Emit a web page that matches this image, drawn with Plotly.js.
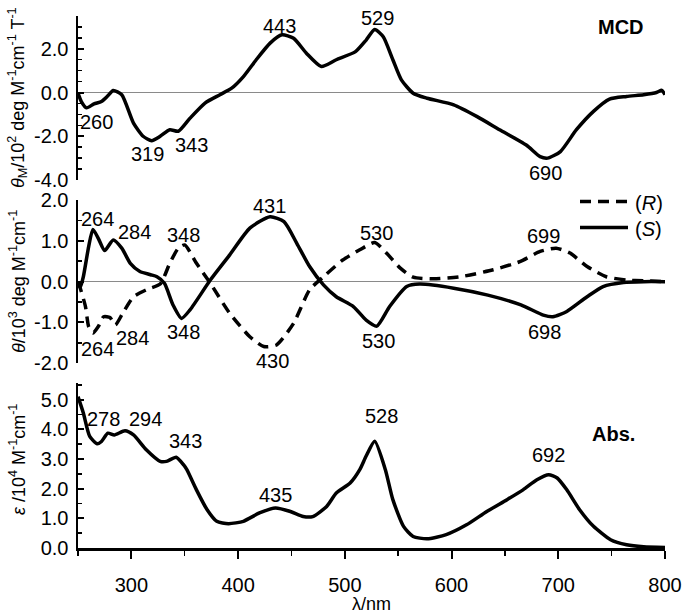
<!DOCTYPE html>
<html>
<head>
<meta charset="utf-8">
<script src="https://cdn.plot.ly/plotly-3.0.1.min.js"></script>
<style>html,body{margin:0;padding:0;background:#fff;}#chart{width:685px;height:614px;}</style>
</head>
<body>
<div id="chart"></div>
<script>
// ---------- data ----------
const mcdWl = [250,253,258,265,272,278,283,291,302,311,319,327,336,344,355,369,383,394,405,417,430,441,452,464,478,492,510,520,528,536,545,553,564,577,602,624,645,670,683,690,702,717,733,748,764,780,792,797,800];
const mcdVal = [-0.03,-0.4,-0.7,-0.52,-0.41,-0.15,0.09,-0.1,-1.4,-2.0,-2.2,-2.0,-1.7,-1.77,-1.17,-0.48,-0.1,0.2,0.73,1.5,2.26,2.64,2.48,1.8,1.19,1.5,1.87,2.4,2.88,2.55,1.5,0.58,-0.03,-0.26,-0.56,-1.1,-1.7,-2.4,-2.93,-3.0,-2.7,-1.7,-0.86,-0.3,-0.18,-0.1,0.0,0.1,-0.1];

const cdSWl = [250,252,255,260,264,269,275,283,291,299,308,318,324,331,339,347,355,374,392,411,430,443,455,467,480,492,508,520,530,542,558,570,602,634,665,686,695,708,727,742,761,780,800];
const cdSVal = [0.0,-0.15,0.12,0.86,1.28,1.06,0.76,1.02,0.82,0.45,0.25,0.17,0.12,-0.04,-0.57,-0.9,-0.69,0.04,0.65,1.31,1.59,1.47,0.94,0.37,-0.08,-0.37,-0.61,-0.94,-1.09,-0.61,-0.12,-0.06,-0.16,-0.33,-0.57,-0.82,-0.86,-0.73,-0.37,-0.12,-0.02,0.0,0.0];

const cdRWl = [250,252,257,260,264,269,274,280,285,292,302,314,327,336,344,350,361,374,392,411,424,436,452,467,480,498,514,528,539,552,564,583,608,639,664,683,698,711,727,745,764,780,800];
const cdRVal = [0.0,-0.15,-0.61,-1.1,-1.26,-1.1,-0.86,-0.88,-1.06,-0.77,-0.37,-0.2,-0.06,0.45,0.82,0.9,0.45,-0.04,-0.77,-1.35,-1.59,-1.55,-1.02,-0.2,0.12,0.53,0.78,0.96,0.7,0.33,0.11,0.07,0.12,0.29,0.49,0.74,0.82,0.7,0.37,0.12,0.04,0.02,0.0];

const absWl = [250,255,261,268,272,278,284,294,302,314,327,333,342,349,352,361,371,380,391,405,420,435,449,461,470,483,492,505,514,520,528,538,545,555,564,577,595,614,633,652,667,680,691,699,708,720,733,749,764,780,800];
const absVal = [5.1,4.55,3.76,3.51,3.59,3.87,3.81,3.95,3.81,3.31,2.92,2.92,3.06,2.8,2.64,1.96,1.29,0.9,0.82,0.9,1.18,1.35,1.23,1.06,1.06,1.4,1.85,2.19,2.64,3.1,3.6,2.64,1.63,0.73,0.39,0.31,0.45,0.78,1.23,1.63,1.96,2.3,2.47,2.36,1.96,1.29,0.73,0.28,0.11,0.04,0.02];

// tick labels
const xTickVals = [300,400,500,600,700,800];
const xTickText = ["300","400","500","600","700","800"];
const mcdTickVals = [-4,-2,0,2];
const mcdTickText = ["-4.0","-2.0","0.0","2.0"];
const cdTickVals = [-2,-1,0,1,2];
const cdTickText = ["-2.0","-1.0","0.0","1.0","2.0"];
const absTickVals = [0,1,2,3,4,5];
const absTickText = ["0.0","1.0","2.0","3.0","4.0","5.0"];

// peak labels
const mcdPeaks = ["260","319","343","443","529","690"];
const cdPeaks = ["264","284","348","431","530","699","264","284","348","430","530","698"];
const absPeaks = ["278","294","343","435","528","692"];

// ---------- layout helpers ----------
const FONT = "Liberation Sans, Arial, sans-serif";
const L = 78, R = 20, T = 16, B = 66, W = 685, H = 614;
const pw = W - L - R, ph = H - T - B;
const pxX = px => (px - L) / pw;
const pxY = py => (H - B - py) / ph;

const lineStyle = {color: "#000", width: 3.5, shape: "spline", smoothing: 0.6};

const traces = [
  {x: mcdWl, y: mcdVal, xaxis: "x", yaxis: "y", mode: "lines", line: lineStyle, showlegend: false},
  {x: cdRWl, y: cdRVal, xaxis: "x2", yaxis: "y2", mode: "lines", line: Object.assign({}, lineStyle, {dash: "11px,7px"}), showlegend: false},
  {x: cdSWl, y: cdSVal, xaxis: "x2", yaxis: "y2", mode: "lines", line: lineStyle, showlegend: false},
  {x: absWl, y: absVal, xaxis: "x3", yaxis: "y3", mode: "lines", line: lineStyle, showlegend: false}
];

const hiddenX = {range: [250, 800], visible: false, domain: [0, 1]};
function yAxis(domain, range, vals, text, zero) {
  return {
    domain: domain, range: range, tickmode: "array", tickvals: vals, ticktext: text,
    showline: true, linecolor: "#000", linewidth: 2.5,
    ticks: "inside", ticklen: 6, tickwidth: 2, tickcolor: "#000",
    minor: {tickmode: "linear", tick0: 0, dtick: 0.5, ticks: "inside", ticklen: 4, tickwidth: 1.5, tickcolor: "#000"},
    showgrid: false, zeroline: zero, zerolinecolor: "#8a8a8a", zerolinewidth: 1.5,
    tickfont: {family: FONT, size: 20, color: "#000"}, ticklabelstandoff: 3,
    fixedrange: true
  };
}

const ann = [];
const NF = {family: FONT, size: 20, color: "#000"};
function lab(text, x, y, xref, yref, opts) {
  ann.push(Object.assign({text: text, x: x, y: y, xref: xref, yref: yref, showarrow: false,
    xanchor: "center", yanchor: "middle", font: NF}, opts || {}));
}
// MCD peak labels
const mcdPos = [[267.3,-1.34],[315,-2.82],[356.5,-2.42],[438.8,3.04],[530.6,3.43],[688,-3.66]];
mcdPeaks.forEach((t,i) => lab(t, mcdPos[i][0], mcdPos[i][1], "x", "y"));
// CD peak labels
const cdPos = [[268.3,1.53],[302.9,1.21],[349,1.14],[429.1,1.86],[529.9,1.2],[686.2,1.12],
               [268.3,-1.64],[300.8,-1.37],[348.4,-1.24],[432.7,-1.94],[531.4,-1.45],[686.8,-1.24]];
cdPeaks.forEach((t,i) => lab(t, cdPos[i][0], cdPos[i][1], "x2", "y2"));
// Abs peak labels
const absPos = [[274.2,4.36],[312.8,4.36],[350.3,3.62],[435.5,1.78],[533.9,4.46],[691.3,3.14]];
absPeaks.forEach((t,i) => lab(t, absPos[i][0], absPos[i][1], "x3", "y3"));
// panel names
lab("<b>MCD</b>", 759, 3.0, "x", "y");
lab("<b>CD</b>", 760, 2.56, "x2", "y2");
lab("<b>Abs.</b>", 752, 3.83, "x3", "y3");
// legend texts
lab("(<i>R</i>)", pxX(648.5), pxY(203), "paper", "paper");
lab("(<i>S</i>)", pxX(648.5), pxY(228.5), "paper", "paper");
// axis titles
const tf = {family: FONT, size: 18, color: "#000"};
lab("<i>θ</i><sub>M</sub>/10<sup>2</sup> deg M<sup>-1</sup>cm<sup>-1</sup> T<sup>-1</sup>", pxX(17), pxY(98), "paper", "paper", {textangle: -90, font: tf});
lab("<i>θ</i>/10<sup>3</sup> deg M<sup>-1</sup>cm<sup>-1</sup>", pxX(17), pxY(282), "paper", "paper", {textangle: -90, font: tf});
lab("<i>ε</i> /10<sup>4</sup> M<sup>-1</sup>cm<sup>-1</sup>", pxX(17), pxY(460), "paper", "paper", {textangle: -90, font: tf});
lab("λ/nm", pxX(372), pxY(604), "paper", "paper", {font: tf});

const shapes = [
  {type: "line", xref: "paper", yref: "paper", x0: pxX(580), x1: pxX(627), y0: pxY(201.5), y1: pxY(201.5),
   line: {color: "#000", width: 3.5, dash: "11px,7px"}},
  {type: "line", xref: "paper", yref: "paper", x0: pxX(580), x1: pxX(628), y0: pxY(227.5), y1: pxY(227.5),
   line: {color: "#000", width: 3.5}}
];

const layout = {
  width: W, height: H,
  margin: {l: L, r: R, t: T, b: B, pad: 0},
  paper_bgcolor: "#fff", plot_bgcolor: "rgba(0,0,0,0)",
  font: {family: FONT, size: 20, color: "#000"},
  showlegend: false,
  xaxis: Object.assign({}, hiddenX, {anchor: "y"}),
  xaxis2: Object.assign({}, hiddenX, {anchor: "y2"}),
  xaxis3: {
    domain: [0, 1], range: [250, 800], anchor: "y3",
    tickmode: "array", tickvals: xTickVals, ticktext: xTickText,
    showline: true, linecolor: "#000", linewidth: 2.5,
    ticks: "outside", ticklen: 8, tickwidth: 2, tickcolor: "#000",
    minor: {tickmode: "linear", tick0: 250, dtick: 50, ticks: "outside", ticklen: 5, tickwidth: 1.5, tickcolor: "#000"},
    showgrid: false, zeroline: false,
    tickfont: {family: FONT, size: 20, color: "#000"}, ticklabelstandoff: 9,
    fixedrange: true
  },
  yaxis: Object.assign(yAxis([pxY(180), 1], [-4, 3.5], mcdTickVals, mcdTickText, true), {anchor: "x"}),
  yaxis2: Object.assign(yAxis([pxY(363.3), pxY(200)], [-2, 2], cdTickVals, cdTickText, true), {anchor: "x2"}),
  yaxis3: Object.assign(yAxis([0, pxY(383.3)], [0, 5.55], absTickVals, absTickText, false), {anchor: "x3"}),
  annotations: ann,
  shapes: shapes
};

Plotly.newPlot("chart", traces, layout, {staticPlot: true, displayModeBar: false});
</script>
</body>
</html>
